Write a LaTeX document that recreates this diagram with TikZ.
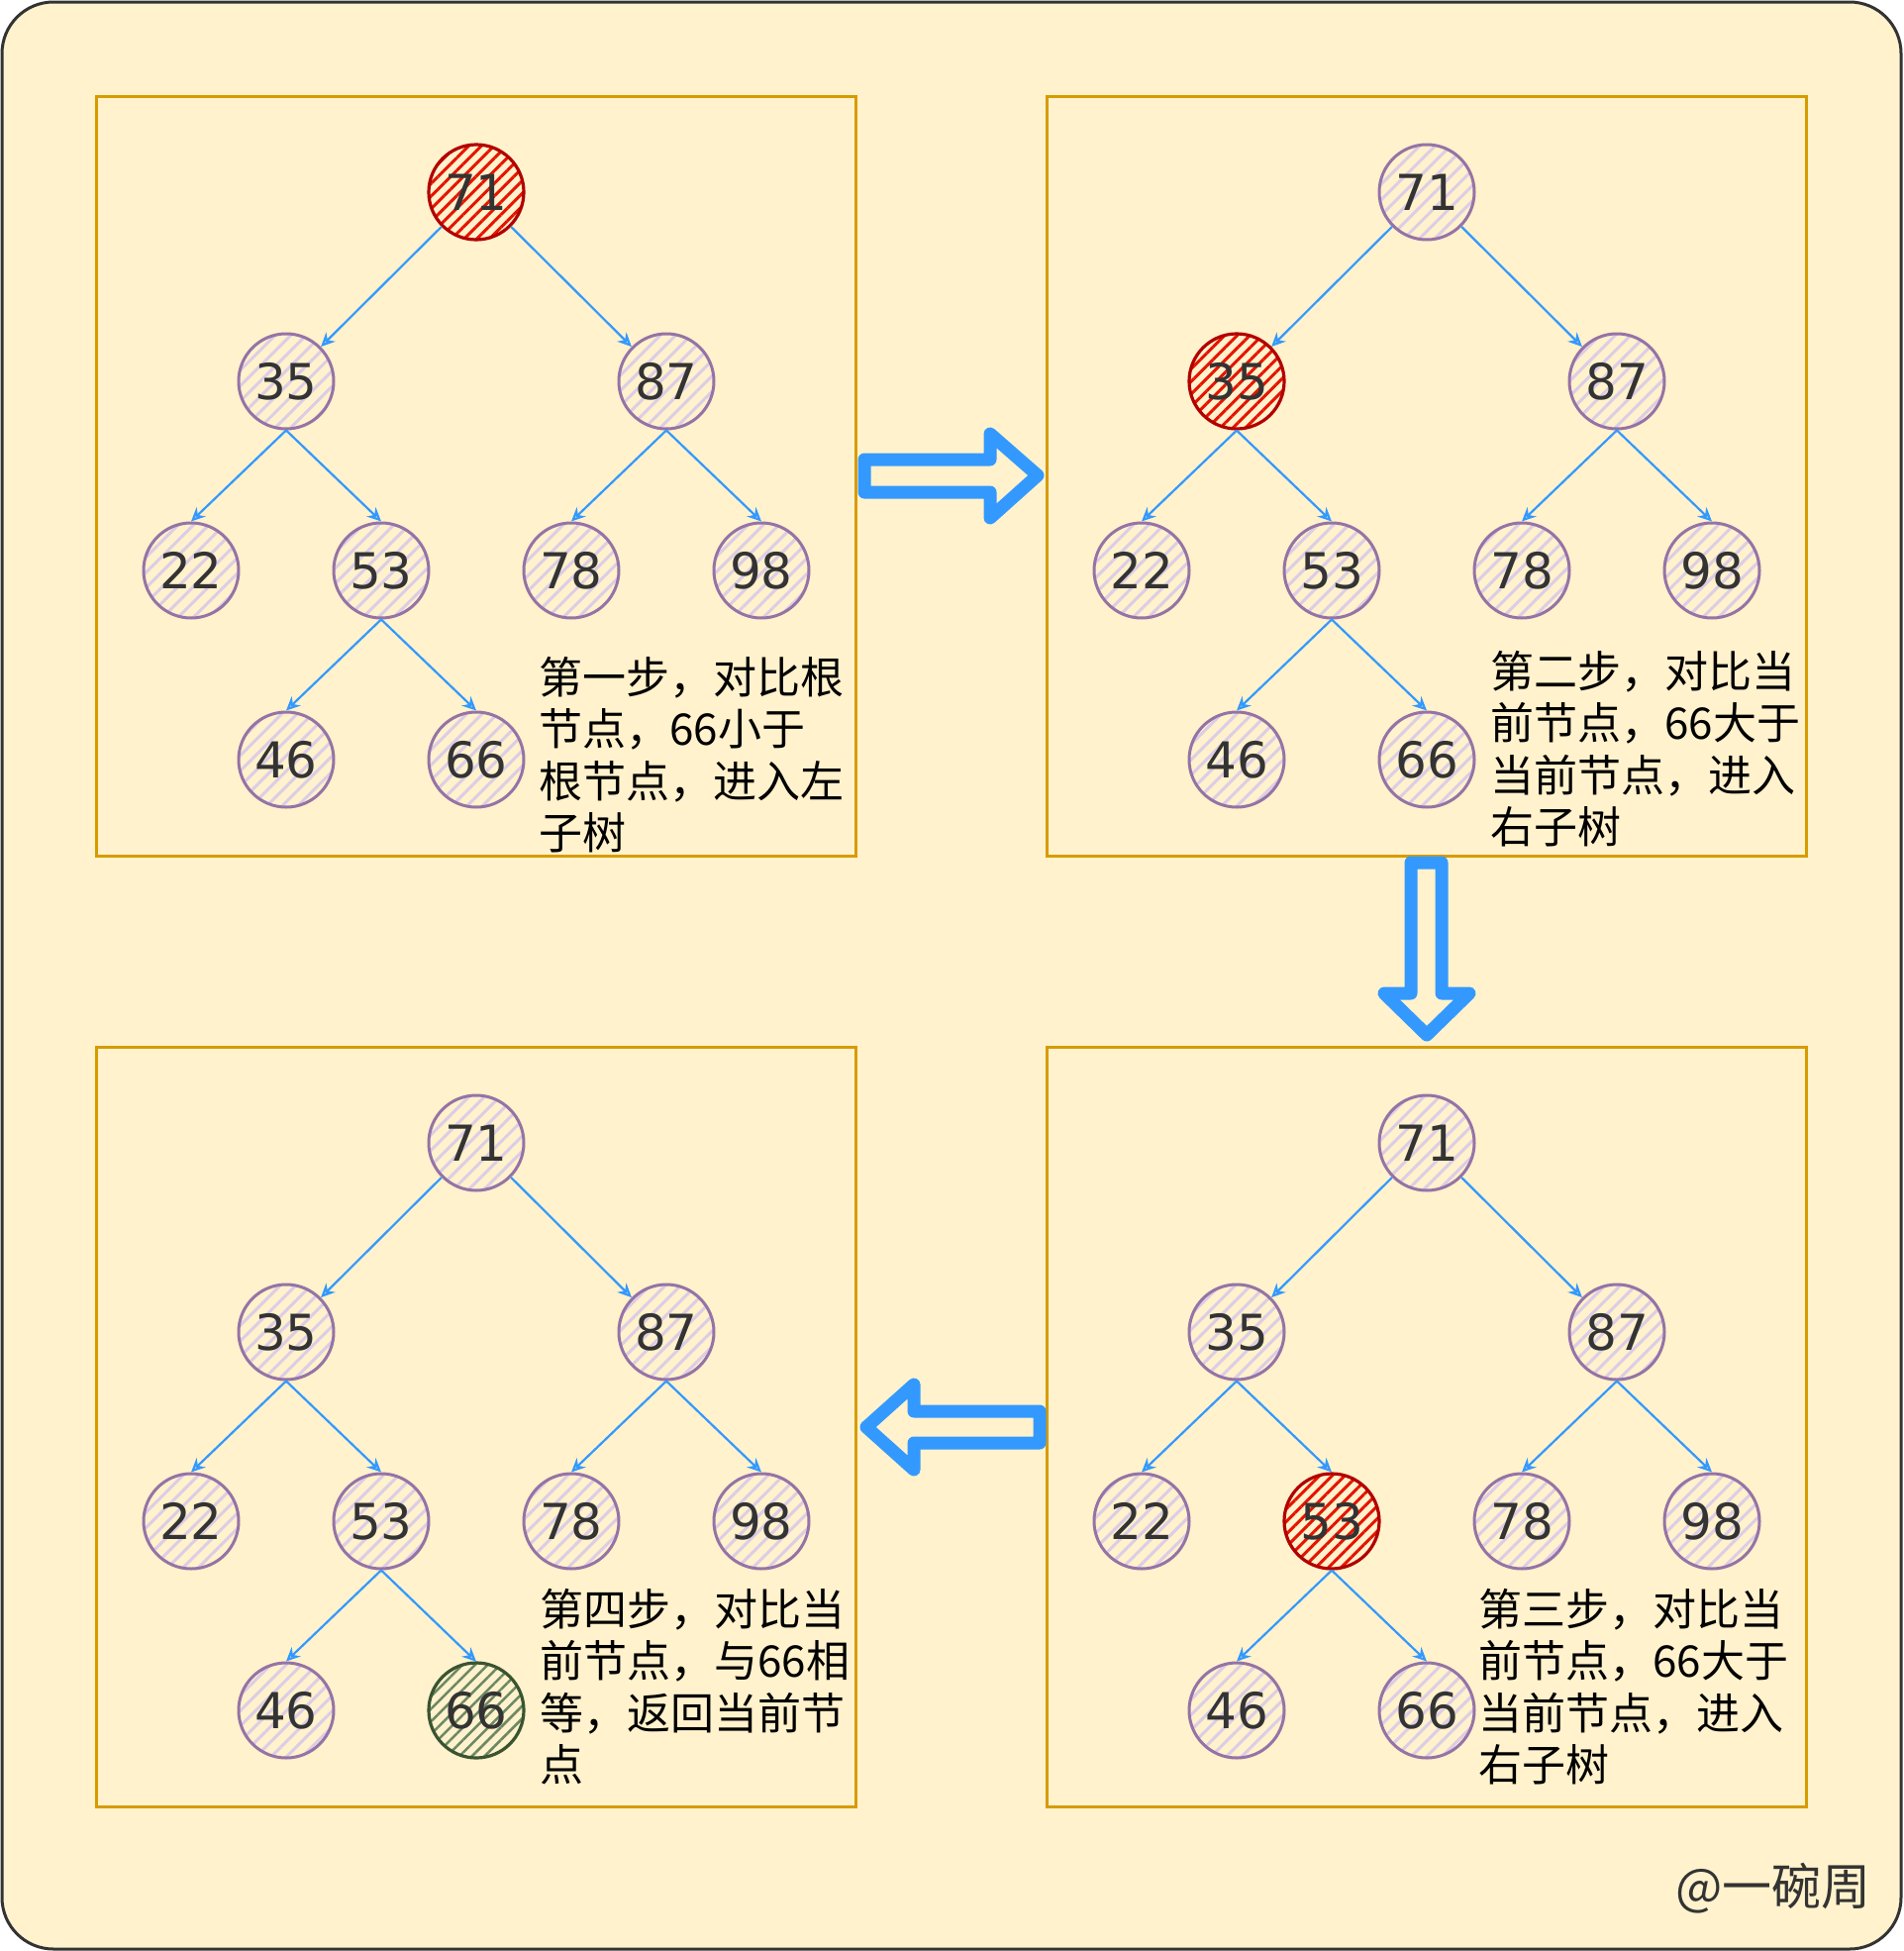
\documentclass[tikz,border=0pt]{standalone}
\usepackage{fontspec}
\newfontfamily\cjk{Noto Sans CJK SC}
\newfontfamily\numfont{DejaVu Sans}
\usetikzlibrary{arrows.meta,patterns.meta}
\definecolor{bgY}{HTML}{FFF2CC}
\definecolor{cdark}{HTML}{333333}
\definecolor{panelC}{HTML}{D79B00}
\definecolor{blueC}{HTML}{3399FF}
\definecolor{purS}{HTML}{9673A6}
\definecolor{purF}{HTML}{DCCDE6}
\definecolor{redS}{HTML}{B20000}
\definecolor{redF}{HTML}{E51400}
\definecolor{grnS}{HTML}{3A5431}
\definecolor{grnF}{HTML}{6D8764}
\tikzset{
  tn/.style={circle, minimum size=96pt, inner sep=0pt, line width=3pt,
    font=\numfont\fontsize{50}{60}\selectfont, text=cdark},
  purp/.style={draw=purS, pattern={Lines[angle=45,distance=11pt,line width=3pt]}, pattern color=purF},
  rednode/.style={draw=redS, line width=3.2pt, pattern={Lines[angle=45,distance=9pt,line width=3pt]}, pattern color=redF},
  grnnode/.style={draw=grnS, line width=3.2pt, pattern={Lines[angle=45,distance=9pt,line width=2.5pt]}, pattern color=grnF},
  v71/.style=purp, v35/.style=purp, v87/.style=purp, v22/.style=purp, v53/.style=purp,
  v78/.style=purp, v98/.style=purp, v46/.style=purp, v66/.style=purp,
  edge/.style={draw=blueC, line width=2.2pt, -{Stealth[open,length=14pt,width=13pt]}},
  panel/.style={draw=panelC, line width=3pt},
  bigarrow/.style={draw=blueC, line width=13pt, line join=round, fill=bgY},
  steptext/.style={font=\cjk\fontsize{44}{52.5}\selectfont, align=left, inner sep=0pt, text=black, anchor=base west},
}
\newcommand\drawtree[1]{%
  \draw[panel] (0,0) rectangle (767,767);
  \node[tn,v71] (#1-71) at (384,97) {71};
  \node[tn,v35] (#1-35) at (192,288) {35};
  \node[tn,v87] (#1-87) at (576,288) {87};
  \node[tn,v22] (#1-22) at (96,479) {22};
  \node[tn,v53] (#1-53) at (288,479) {53};
  \node[tn,v78] (#1-78) at (480,479) {78};
  \node[tn,v98] (#1-98) at (672,479) {98};
  \node[tn,v46] (#1-46) at (192,670) {46};
  \node[tn,v66] (#1-66) at (384,670) {66};
  \draw[edge] (#1-71) -- (#1-35);
  \draw[edge] (#1-71) -- (#1-87);
  \draw[edge] (#1-35.south) -- (#1-22.north);
  \draw[edge] (#1-35.south) -- (#1-53.north);
  \draw[edge] (#1-87.south) -- (#1-78.north);
  \draw[edge] (#1-87.south) -- (#1-98.north);
  \draw[edge] (#1-53.south) -- (#1-46.north);
  \draw[edge] (#1-53.south) -- (#1-66.north);
}
\begin{document}
\begin{tikzpicture}[x=1pt,y=-1pt]
\useasboundingbox (0,0) rectangle (1922,1970);
\draw[draw=cdark, fill=bgY, line width=3pt, rounded corners=52pt] (2,2) rectangle (1920,1968);

\begin{scope}[shift={(97,97)}, v71/.style=rednode]
  \drawtree{p1}
\end{scope}
\begin{scope}[shift={(1057,97)}, v35/.style=rednode]
  \drawtree{p2}
\end{scope}
\begin{scope}[shift={(1057,1057)}, v53/.style=rednode]
  \drawtree{p4}
\end{scope}
\begin{scope}[shift={(97,1057)}, v66/.style=grnnode]
  \drawtree{p3}
\end{scope}

% anchor = baseline of the last (4th) line
\node[steptext] (t1) at (544,857.5) {第一步，对比根\\节点，66小于\\根节点，进入左\\子树};
\node[steptext] (t2) at (1505,851.5) {第二步，对比当\\前节点，66大于\\当前节点，进入\\右子树};
\node[steptext] (t4) at (1493,1798.5) {第三步，对比当\\前节点，66大于\\当前节点，进入\\右子树};
\node[steptext] (t3) at (545,1798.5) {第四步，对比当\\前节点，与66相\\等，返回当前节\\点};

% big arrows
\draw[bigarrow] (873,464) -- (1000,464) -- (1000,438) -- (1048,480) -- (1000,523) -- (1000,497) -- (873,497) -- cycle;
\draw[bigarrow] (1425,871) -- (1456,871) -- (1456,1003) -- (1484,1003) -- (1441,1045) -- (1398,1003) -- (1425,1003) -- cycle;
\draw[bigarrow] (1050,1425) -- (923,1425) -- (923,1398) -- (875,1441) -- (923,1484) -- (923,1457) -- (1050,1457) -- cycle;

\node[font=\cjk\fontsize{50}{60}\selectfont, text=cdark, anchor=east, inner sep=0pt] (sig) at (1890,1907) {@一碗周};
\end{tikzpicture}
\end{document}
